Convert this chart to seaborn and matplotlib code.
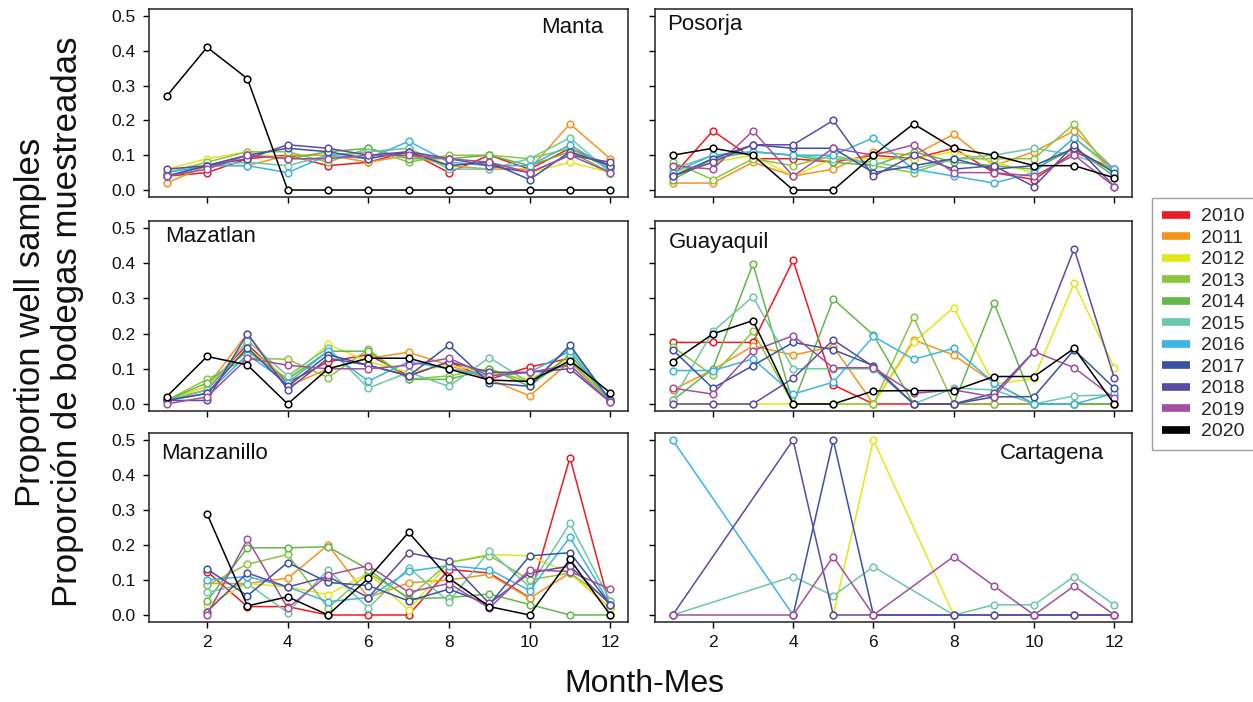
import numpy as np
import pandas as pd
import matplotlib
matplotlib.use("Agg")
import matplotlib.pyplot as plt
import seaborn as sns
from matplotlib.lines import Line2D

nan = np.nan
months = list(range(1, 13))
years = [2010, 2011, 2012, 2013, 2014, 2015, 2016, 2017, 2018, 2019, 2020]
year_colors = ['#ED1C24', '#F7941D', '#E5E51A', '#8CC63F', '#63B84A', '#6CC9A5',
               '#3DB4E5', '#3953A4', '#5B4C9F', '#A34FA0', '#000000']
ports = ['Manta', 'Posorja', 'Mazatlan', 'Guayaquil', 'Manzanillo', 'Cartagena']
x_ticks = [2, 4, 6, 8, 10, 12]
y_ticks = [0.0, 0.1, 0.2, 0.3, 0.4, 0.5]

# rows = years 2010..2020, columns = months 1..12
manta = [
    [0.04, 0.05, 0.09, 0.10, 0.07, 0.08, 0.11, 0.05, 0.10, 0.06, 0.12, 0.07],
    [0.02, 0.07, 0.07, 0.10, 0.10, 0.08, 0.10, 0.07, 0.06, 0.06, 0.19, 0.09],
    [0.06, 0.09, 0.11, 0.09, 0.09, 0.11, 0.12, 0.07, 0.08, 0.05, 0.08, 0.05],
    [0.05, 0.08, 0.11, 0.11, 0.08, 0.12, 0.08, 0.10, 0.10, 0.09, 0.12, 0.06],
    [0.04, 0.07, 0.10, 0.09, 0.11, 0.12, 0.09, 0.09, 0.10, 0.07, 0.11, 0.05],
    [0.04, 0.07, 0.08, 0.07, 0.10, 0.11, 0.12, 0.06, 0.06, 0.09, 0.15, 0.05],
    [0.05, 0.07, 0.07, 0.05, 0.10, 0.09, 0.14, 0.08, 0.07, 0.07, 0.13, 0.06],
    [0.04, 0.07, 0.10, 0.12, 0.11, 0.09, 0.11, 0.07, 0.08, 0.03, 0.11, 0.07],
    [0.06, 0.07, 0.09, 0.13, 0.12, 0.10, 0.11, 0.09, 0.07, 0.05, 0.10, 0.08],
    [0.04, 0.06, 0.10, 0.09, 0.09, 0.10, 0.10, 0.09, 0.08, 0.05, 0.10, 0.05],
    [0.27, 0.41, 0.32, 0.00, 0.00, 0.00, 0.00, 0.00, 0.00, 0.00, 0.00, 0.00],
]
posorja = [
    [0.04, 0.17, 0.09, 0.09, 0.08, 0.10, 0.09, 0.12, 0.05, 0.03, 0.11, 0.06],
    [0.02, 0.02, 0.08, 0.04, 0.06, 0.11, 0.10, 0.16, 0.07, 0.11, 0.17, 0.06],
    [0.05, 0.08, 0.10, 0.04, 0.09, 0.09, 0.09, 0.11, 0.08, 0.05, 0.15, 0.05],
    [0.08, 0.03, 0.09, 0.07, 0.10, 0.07, 0.05, 0.09, 0.09, 0.09, 0.19, 0.04],
    [0.03, 0.09, 0.11, 0.10, 0.08, 0.07, 0.11, 0.08, 0.07, 0.06, 0.12, 0.04],
    [0.06, 0.10, 0.11, 0.10, 0.09, 0.08, 0.06, 0.09, 0.10, 0.12, 0.10, 0.06],
    [0.05, 0.10, 0.11, 0.10, 0.10, 0.15, 0.06, 0.04, 0.02, 0.05, 0.15, 0.06],
    [0.04, 0.09, 0.13, 0.12, 0.12, 0.05, 0.07, 0.09, 0.06, 0.07, 0.12, 0.05],
    [0.04, 0.08, 0.13, 0.13, 0.20, 0.04, 0.10, 0.06, 0.07, 0.01, 0.13, 0.01],
    [0.07, 0.06, 0.17, 0.04, 0.12, 0.10, 0.13, 0.05, 0.05, 0.04, 0.10, 0.01],
    [0.10, 0.12, 0.10, 0.00, 0.00, 0.10, 0.19, 0.12, 0.10, 0.07, 0.07, 0.035],
]
mazatlan = [
    [0.01, 0.04, 0.17, 0.06, 0.12, 0.14, 0.08, 0.12, 0.07, 0.105, 0.13, 0.01],
    [0.01, 0.05, 0.20, 0.05, 0.10, 0.13, 0.147, 0.11, 0.07, 0.023, 0.12, 0.01],
    [0.01, 0.05, 0.16, 0.07, 0.17, 0.12, 0.09, 0.11, 0.09, 0.07, 0.13, 0.01],
    [0.01, 0.07, 0.13, 0.127, 0.075, 0.155, 0.07, 0.08, 0.10, 0.06, 0.12, 0.01],
    [0.01, 0.06, 0.15, 0.07, 0.15, 0.15, 0.07, 0.07, 0.10, 0.05, 0.14, 0.01],
    [0.01, 0.04, 0.18, 0.08, 0.16, 0.045, 0.09, 0.05, 0.132, 0.06, 0.16, 0.01],
    [0.01, 0.03, 0.14, 0.06, 0.15, 0.065, 0.12, 0.10, 0.08, 0.09, 0.15, 0.01],
    [0.01, 0.03, 0.16, 0.05, 0.14, 0.11, 0.08, 0.167, 0.06, 0.05, 0.167, 0.01],
    [0.01, 0.01, 0.20, 0.04, 0.13, 0.11, 0.08, 0.12, 0.09, 0.09, 0.10, 0.005],
    [0.00, 0.02, 0.13, 0.11, 0.10, 0.10, 0.11, 0.13, 0.08, 0.09, 0.11, 0.005],
    [0.021, 0.135, 0.111, 0.00, 0.10, 0.13, 0.13, 0.099, 0.068, 0.064, 0.123, 0.032],
]
guayaquil = [
    [0.175, 0.175, 0.175, 0.408, 0.054, 0.0, 0.0, 0.0, 0.0, 0.0, 0.0, 0.0],
    [0.04, 0.097, 0.165, 0.139, 0.163, 0.0, 0.182, 0.139, 0.06, 0.0, 0.0, 0.0],
    [0.0, 0.0, 0.0, 0.0, 0.0, 0.0, 0.175, 0.274, 0.056, 0.073, 0.343, 0.103],
    [0.163, 0.081, 0.206, 0.0, 0.0, 0.0, 0.247, 0.0, 0.0, 0.0, 0.0, 0.0],
    [0.01, 0.10, 0.398, 0.0, 0.298, 0.196, 0.0, 0.0, 0.288, 0.0, 0.0, 0.0],
    [0.01, 0.206, 0.305, 0.10, 0.10, 0.10, 0.0, 0.045, 0.04, 0.0, 0.023, 0.026],
    [0.095, 0.095, 0.128, 0.028, 0.062, 0.192, 0.127, 0.158, 0.06, 0.0, 0.0, 0.03],
    [0.154, 0.045, 0.109, 0.175, 0.154, 0.109, 0.0, 0.0, 0.02, 0.021, 0.154, 0.045],
    [0.0, 0.0, 0.0, 0.073, 0.182, 0.106, 0.0, 0.0, 0.03, 0.149, 0.441, 0.073],
    [0.045, 0.028, 0.151, 0.194, 0.103, 0.103, 0.03, 0.04, 0.02, 0.149, 0.103, 0.016],
    [0.12, 0.199, 0.237, 0.0, 0.0, 0.037, 0.038, 0.038, 0.078, 0.078, 0.158, 0.0],
]
manzanillo = [
    [nan, 0.124, 0.024, 0.024, 0.0, 0.0, 0.0, 0.13, 0.12, 0.05, 0.45, 0.02],
    [nan, 0.09, 0.09, 0.105, 0.2, 0.05, 0.092, 0.1, 0.116, 0.048, 0.12, 0.02],
    [nan, 0.03, 0.09, 0.08, 0.058, 0.12, 0.014, 0.15, 0.173, 0.169, 0.12, 0.02],
    [nan, 0.085, 0.145, 0.173, 0.02, 0.12, 0.05, 0.15, 0.17, 0.1, 0.12, 0.04],
    [nan, 0.04, 0.192, 0.192, 0.195, 0.13, 0.046, 0.05, 0.06, 0.03, 0.0, 0.0],
    [nan, 0.065, 0.09, 0.007, 0.129, 0.02, 0.135, 0.038, 0.183, 0.08, 0.262, 0.04],
    [nan, 0.10, 0.11, 0.08, 0.038, 0.05, 0.125, 0.141, 0.13, 0.07, 0.222, 0.03],
    [nan, 0.131, 0.055, 0.15, 0.093, 0.084, 0.04, 0.074, 0.03, 0.169, 0.178, 0.03],
    [nan, 0.01, 0.12, 0.08, 0.11, 0.05, 0.178, 0.154, 0.033, 0.12, 0.14, 0.03],
    [nan, 0.0, 0.217, 0.02, 0.114, 0.141, 0.065, 0.09, 0.02, 0.129, 0.124, 0.074],
    [nan, 0.289, 0.026, 0.052, 0.0, 0.105, 0.236, 0.105, 0.024, 0.0, 0.159, 0.0],
]
cartagena = [
    [nan] * 12,
    [nan] * 12,
    [nan, nan, nan, nan, 0.0, 0.5, nan, 0.0, nan, nan, nan, nan],
    [nan] * 12,
    [nan] * 12,
    [0.0, nan, nan, 0.11, 0.055, 0.138, nan, 0.0, 0.029, 0.029, 0.11, 0.029],
    [0.5, nan, nan, 0.0, nan, nan, nan, nan, nan, nan, nan, nan],
    [nan, nan, nan, 0.0, 0.5, 0.0, nan, 0.0, 0.0, 0.0, 0.0, 0.0],
    [0.0, nan, nan, 0.5, 0.0, 0.0, nan, 0.0, 0.0, 0.0, 0.0, 0.0],
    [0.0, nan, nan, 0.0, 0.167, 0.0, nan, 0.167, 0.083, 0.0, 0.083, 0.0],
    [nan] * 12,
]
port_values = [manta, posorja, mazatlan, guayaquil, manzanillo, cartagena]

rows = []
for port, table in zip(ports, port_values):
    for yr, vals in zip(years, table):
        for m, v in zip(months, vals):
            rows.append((port, yr, m, v))
df = pd.DataFrame(rows, columns=['port', 'year', 'month', 'value'])
palette = dict(zip(years, year_colors))

sns.set_style('ticks')
plt.rcParams['font.family'] = ['Liberation Sans', 'DejaVu Sans']

W, H = 1253, 702
fig = plt.figure(figsize=(W / 100, H / 100), dpi=100)

col_x = [149, 655]
col_w = [479, 477]
row_top = [9, 221, 433]
row_h = [188, 190, 189]

title_pos = {
    'Manta': (0.948, 0.904, 'right'),
    'Posorja': (0.025, 0.915, 'left'),
    'Mazatlan': (0.033, 0.916, 'left'),
    'Guayaquil': (0.029, 0.889, 'left'),
    'Manzanillo': (0.025, 0.894, 'left'),
    'Cartagena': (0.941, 0.894, 'right'),
}

for i, port in enumerate(ports):
    r, c = divmod(i, 2)
    left = col_x[c] / W
    bottom = (H - row_top[r] - row_h[r]) / H
    ax = fig.add_axes([left, bottom, col_w[c] / W, row_h[r] / H])
    sub = df[df['port'] == port]
    sns.lineplot(data=sub, x='month', y='value', hue='year', hue_order=years,
                 palette=palette, estimator=None, legend=False, ax=ax,
                 marker='o', markersize=4.8, markerfacecolor='white',
                 markeredgewidth=1.1, linewidth=1.1)
    for ln in ax.lines:
        ln.set_markeredgecolor(ln.get_color())
    ax.set_xlim(0.56, 12.44)
    ax.set_ylim(-0.02, 0.52)
    ax.set_xticks(x_ticks)
    ax.set_yticks(y_ticks)
    ax.set_xlabel('')
    ax.set_ylabel('')
    ax.tick_params(axis='both', direction='out', length=4.6, width=1.0,
                   color='black', labelsize=12.5, pad=5, labelcolor='#111111')
    if r < 2:
        ax.set_xticklabels([])
    else:
        ax.set_xticklabels([str(t) for t in x_ticks])
    if c == 1:
        ax.set_yticklabels([])
    else:
        ax.set_yticklabels([f'{t:.1f}' for t in y_ticks])
    for s in ax.spines.values():
        s.set_visible(True)
        s.set_color('#222222')
        s.set_linewidth(1.1)
    tx, ty, ha = title_pos[port]
    ax.text(tx, ty, port, transform=ax.transAxes, ha=ha, va='center',
            fontsize=16, color='#111111')

fig.text(644 / W, 1 - 684 / H, 'Month-Mes', ha='center', va='center',
         fontsize=23, color='#111111')
fig.text(49 / W, 1 - 322 / H, 'Proportion well samples\nProporción de bodegas muestreadas',
         ha='center', va='center', rotation=90, fontsize=25, linespacing=1.12,
         color='#111111')

handles = [Line2D([0], [0], color=col, linewidth=5.5, solid_capstyle='butt')
           for col in year_colors]
leg = fig.legend(handles, [str(y) for y in years], loc='upper left',
                 bbox_to_anchor=(1152 / W, 1 - 198 / H), fontsize=14,
                 frameon=True, fancybox=False, handlelength=1.45,
                 handletextpad=0.55, labelspacing=0.2, borderpad=0.5,
                 borderaxespad=0)
leg.get_frame().set_edgecolor('#888888')
leg.get_frame().set_linewidth(1.0)

fig.savefig('out.png', dpi=100)
